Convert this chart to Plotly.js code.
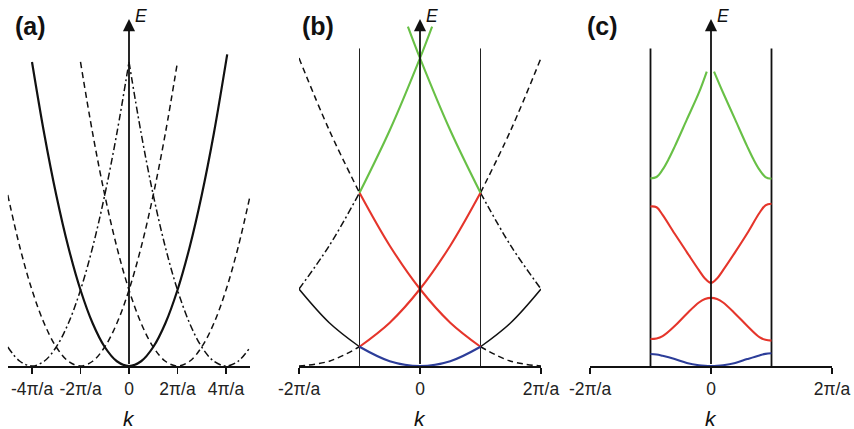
<!DOCTYPE html>
<html><head><meta charset="utf-8">
<script src="https://cdn.plot.ly/plotly-3.0.1.min.js"></script>
<style>html,body{margin:0;padding:0;background:#fff}#chart{width:854px;height:429px}</style>
</head><body><div id="chart"></div>
<script>
// ---- data: k in units of pi/a, E in arbitrary units ----
const tickValsA = [-4, -2, 0, 2, 4];
const tickTextA = ['-4π/a', '-2π/a', '0', '2π/a', '4π/a'];
const tickValsBC = [-2, 0, 2];
const tickTextBC = ['-2π/a', '0', '2π/a'];
const panelLabels = ['(a)', '(b)', '(c)'];

// (a) extended zone scheme
const aSolidK = [-4, -3.5, -3, -2.5, -2, -1.5, -1, -0.5, 0, 0.5, 1, 1.5, 2, 2.5, 3, 3.5, 4.05];
const aSolidE = [16, 12.25, 9, 6.25, 4, 2.25, 1, 0.25, 0, 0.25, 1, 2.25, 4, 6.25, 9, 12.25, 16.4];
const aDashRK = [-2, -1.5, -1, -0.5, 0, 0.5, 1, 1.5, 2, 2.5, 3, 3.5, 4, 4.5, 5];
const aDashRE = [16, 12.25, 9, 6.25, 4, 2.25, 1, 0.25, 0, 0.25, 1, 2.25, 4, 6.25, 9];
const aDashLK = [-5, -4.5, -4, -3.5, -3, -2.5, -2, -1.5, -1, -0.5, 0, 0.5, 1, 1.5, 2];
const aDashLE = [9, 6.25, 4, 2.25, 1, 0.25, 0, 0.25, 1, 2.25, 4, 6.25, 9, 12.25, 16];
const aDotLK = [-5, -4.5, -4, -3.5, -3, -2.5, -2, -1.5, -1, -0.5, 0];
const aDotLE = [1, 0.25, 0, 0.25, 1, 2.25, 4, 6.25, 9, 12.25, 16];
const aDotRK = [0, 0.5, 1, 1.5, 2, 2.5, 3, 3.5, 4, 4.5, 5];
const aDotRE = [16, 12.25, 9, 6.25, 4, 2.25, 1, 0.25, 0, 0.25, 1];

// (b) repeated zone scheme (free electron)
const bBlueK = [-1, -0.5, 0, 0.5, 1];
const bBlueE = [1, 0.25, 0, 0.25, 1];
const bBlackLK = [-2, -1.5, -1];
const bBlackLE = [4, 2.25, 1];
const bBlackRK = [1, 1.5, 2];
const bBlackRE = [1, 2.25, 4];
const bRedK = [-1, -0.5, 0, 0.5, 1];
const bRedUpE = [1, 2.25, 4, 6.25, 9];
const bRedDownE = [9, 6.25, 4, 2.25, 1];
const bGreenUpK = [-1, -0.5, 0, 0.2];
const bGreenUpE = [9, 12.25, 16, 17.64];
const bGreenDownK = [-0.2, 0, 0.5, 1];
const bGreenDownE = [17.64, 16, 12.25, 9];
const bOuterLK = [-2, -1.5, -1];
const bOuterRK = [1, 1.5, 2];
const bDashTopLE = [16, 12.25, 9];
const bDashTopRE = [9, 12.25, 16];
const bDashBotLE = [0, 0.25, 1];
const bDashBotRE = [1, 0.25, 0];
const bDotLE = [4, 6.25, 9];
const bDotRE = [9, 6.25, 4];

// (c) reduced zone scheme with gaps
const cBandK = [-1, -0.9, -0.8, -0.6, -0.4, -0.2, -0.1, 0, 0.1, 0.2, 0.4, 0.6, 0.8, 0.9, 1];
const cBlueE = [0.62, 0.6, 0.53, 0.36, 0.16, 0.04, 0.01, 0, 0.01, 0.04, 0.16, 0.36, 0.55, 0.63, 0.66];
const cRedLowE = [1.40, 1.43, 1.55, 2.08, 2.72, 3.3, 3.48, 3.54, 3.48, 3.3, 2.72, 2.08, 1.5, 1.36, 1.32];
const cRedHighE = [8.29, 8.25, 7.85, 6.87, 5.92, 4.98, 4.55, 4.32, 4.55, 4.98, 5.92, 6.9, 7.95, 8.35, 8.43];
const cGreenLK = [-1, -0.9, -0.8, -0.7, -0.6, -0.4, -0.2, -0.07];
const cGreenLE = [9.75, 9.82, 10.2, 10.75, 11.4, 12.8, 14.2, 15.3];
const cGreenRK = [0.05, 0.2, 0.4, 0.6, 0.7, 0.8, 0.9, 1];
const cGreenRE = [15.3, 14.2, 12.8, 11.4, 10.75, 10.2, 9.82, 9.73];

// ---- styles ----
const GREEN = '#68c046', RED = '#e5352b', BLUE = '#2c3d99', BLACK = '#111111';
const DASH = '6px,4px', DASHDOT = '7px,3px,2px,3px';

function tr(x, y, ax, color, width, dash) {
  return {x: x, y: y, xaxis: 'x' + ax, yaxis: 'y' + ax, type: 'scatter', mode: 'lines',
    line: {color: color, width: width, dash: dash || 'solid', shape: 'spline', smoothing: 1},
    hoverinfo: 'skip', showlegend: false};
}

const data = [
  tr(aDashRK, aDashRE, '', BLACK, 1.5, DASH),
  tr(aDashLK, aDashLE, '', BLACK, 1.5, DASH),
  tr(aDotLK, aDotLE, '', BLACK, 1.5, DASHDOT),
  tr(aDotRK, aDotRE, '', BLACK, 1.5, DASHDOT),
  tr(aSolidK, aSolidE, '', BLACK, 2.2),

  tr(bOuterLK, bDashTopLE, '2', BLACK, 1.5, DASH),
  tr(bOuterRK, bDashTopRE, '2', BLACK, 1.5, DASH),
  tr(bOuterLK, bDashBotLE, '2', BLACK, 1.5, DASH),
  tr(bOuterRK, bDashBotRE, '2', BLACK, 1.5, DASH),
  tr(bOuterLK, bDotLE, '2', BLACK, 1.5, DASHDOT),
  tr(bOuterRK, bDotRE, '2', BLACK, 1.5, DASHDOT),
  tr(bBlackLK, bBlackLE, '2', BLACK, 1.5),
  tr(bBlackRK, bBlackRE, '2', BLACK, 1.5),
  tr(bRedK, bRedUpE, '2', RED, 2.1),
  tr(bRedK, bRedDownE, '2', RED, 2.1),
  tr(bGreenUpK, bGreenUpE, '2', GREEN, 2.1),
  tr(bGreenDownK, bGreenDownE, '2', GREEN, 2.1),
  tr(bBlueK, bBlueE, '2', BLUE, 2.1),

  tr(cBandK, cBlueE, '3', BLUE, 2.1),
  tr(cBandK, cRedLowE, '3', RED, 2.1),
  tr(cBandK, cRedHighE, '3', RED, 2.1),
  tr(cGreenLK, cGreenLE, '3', GREEN, 2.1),
  tr(cGreenRK, cGreenRE, '3', GREEN, 2.1)
];

const W = 854, H = 429;
const yBot = (H - 366) / H, yTop = (H - 19) / H;
const topA = 18.26, topBC = 18.03;
const tickFont = {family: 'Liberation Sans, Arial, sans-serif', size: 17.5, color: '#222'};

function xax(dom, range, vals, text) {
  return {domain: dom, range: range, showgrid: false, zeroline: false, showline: true,
    linecolor: BLACK, linewidth: 1.5, ticks: 'outside', ticklen: 6, tickwidth: 1.5, tickcolor: BLACK,
    tickvals: vals, ticktext: text, tickfont: tickFont, fixedrange: true, layer: 'below traces'};
}
function yax(anchor, top) {
  return {domain: [yBot, yTop], range: [0, top], visible: false, showgrid: false, zeroline: false,
    anchor: anchor, fixedrange: true};
}

const domA = [7.75 / W, 250.25 / W], domB = [299 / W, 541 / W], domC = [590 / W, 832 / W];
const axisPx = [129, 420, 711];
const labelLeft = [15, 302, 587];
const annotations = [];
const tops = [topA, topBC, topBC];
['', '2', '3'].forEach(function (s, i) {
  annotations.push({xref: 'x' + s, yref: 'y' + s, axref: 'x' + s, ayref: 'y' + s,
    x: 0, y: tops[i], ax: 0, ay: 0, text: ' ', font: {size: 1},
    showarrow: true, arrowhead: 2, arrowsize: 1.35, arrowwidth: 1.8, arrowcolor: BLACK, standoff: 0, startstandoff: 0});
  annotations.push({xref: 'paper', yref: 'paper', x: (axisPx[i] + 4) / W, y: (H - 16) / H,
    xanchor: 'left', yanchor: 'middle', text: '<i>E</i>', showarrow: false,
    font: {family: 'Liberation Sans, Arial, sans-serif', size: 17.5, color: BLACK}});
  annotations.push({xref: 'paper', yref: 'paper', x: axisPx[i] / W, y: (H - 418) / H,
    xanchor: 'center', yanchor: 'middle', text: '<i>k</i>', showarrow: false,
    font: {family: 'Liberation Sans, Arial, sans-serif', size: 21, color: BLACK}});
  annotations.push({xref: 'paper', yref: 'paper', x: (labelLeft[i] - 2) / W, y: (H - 26) / H,
    xanchor: 'left', yanchor: 'middle', text: '<b>' + panelLabels[i] + '</b>', showarrow: false,
    font: {family: 'Liberation Sans, Arial, sans-serif', size: 25, color: BLACK}});
});

const shapes = [];
[['x2', 'y2', 1, '#222'], ['x3', 'y3', 1.8, BLACK]].forEach(function (p) {
  [-1, 1].forEach(function (kx) {
    shapes.push({type: 'line', xref: p[0], yref: p[1], x0: kx, x1: kx, y0: 0, y1: 16.5,
      line: {color: p[3], width: p[2]}, layer: 'below'});
  });
});

const layout = {
  width: W, height: H, margin: {l: 0, r: 0, t: 0, b: 0},
  paper_bgcolor: '#fff', plot_bgcolor: '#fff', showlegend: false,
  xaxis: xax(domA, [-5, 5], tickValsA, tickTextA),
  yaxis: yax('x', topA),
  xaxis2: xax(domB, [-2, 2], tickValsBC, tickTextBC),
  yaxis2: yax('x2', topBC),
  xaxis3: xax(domC, [-2, 2], tickValsBC, tickTextBC),
  yaxis3: yax('x3', topBC),
  annotations: annotations, shapes: shapes
};
layout.xaxis.anchor = 'y'; layout.xaxis2.anchor = 'y2'; layout.xaxis3.anchor = 'y3';

Plotly.newPlot('chart', data, layout, {staticPlot: true, displayModeBar: false});
</script></body></html>
